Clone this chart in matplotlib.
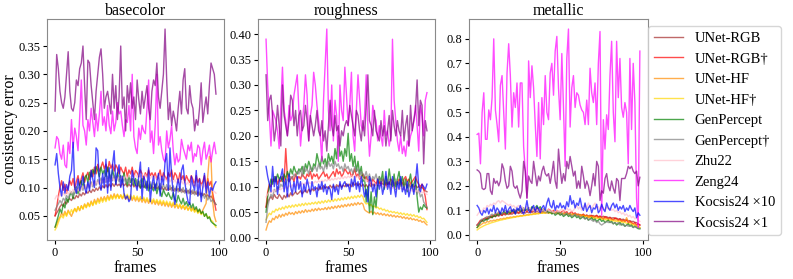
import numpy as np
import matplotlib
matplotlib.use("Agg")
import matplotlib.pyplot as plt
from matplotlib.ticker import MultipleLocator

plt.rcParams["font.family"] = ["Liberation Serif", "DejaVu Serif"]

# ================= LEGEND / STYLE =================
LABELS = ["UNet-RGB", "UNet-RGB\u2020", "UNet-HF", "UNet-HF\u2020", "GenPercept",
          "GenPercept\u2020", "Zhu22", "Zeng24", "Kocsis24 \u00d710", "Kocsis24 \u00d71"]
COLORS = ["brown", "red", "darkorange", "gold", "green",
          "grey", "pink", "magenta", "blue", "purple"]
TITLES = ["basecolor", "roughness", "metallic"]
YSTEPS = [0.05, 0.05, 0.1]

# ================= BASECOLOR =================
bc_unet_rgb = [
    0.050, 0.055, 0.060, 0.066, 0.070, 0.067, 0.075, 0.071, 0.079, 0.080,
    0.077, 0.083, 0.080, 0.086, 0.082, 0.089, 0.085, 0.091, 0.087, 0.093,
    0.090, 0.095, 0.091, 0.097, 0.093, 0.099, 0.095, 0.101, 0.097, 0.103,
    0.099, 0.105, 0.100, 0.106, 0.101, 0.107, 0.102, 0.108, 0.103, 0.106,
    0.102, 0.108, 0.103, 0.107, 0.101, 0.106, 0.102, 0.107, 0.101, 0.105,
    0.101, 0.105, 0.099, 0.104, 0.100, 0.105, 0.099, 0.103, 0.098, 0.102,
    0.099, 0.104, 0.098, 0.101, 0.097, 0.101, 0.096, 0.100, 0.095, 0.099,
    0.096, 0.100, 0.094, 0.098, 0.095, 0.098, 0.093, 0.097, 0.092, 0.095,
    0.091, 0.095, 0.090, 0.094, 0.089, 0.093, 0.088, 0.092, 0.087, 0.090,
    0.086, 0.089, 0.084, 0.087, 0.082, 0.085, 0.080, 0.075, 0.070]
bc_unet_rgb_d = [
    0.050, 0.065, 0.085, 0.100, 0.112, 0.095, 0.106, 0.090, 0.101, 0.112,
    0.104, 0.116, 0.099, 0.111, 0.121, 0.104, 0.116, 0.126, 0.109, 0.120,
    0.127, 0.114, 0.131, 0.119, 0.136, 0.124, 0.141, 0.129, 0.136, 0.145,
    0.133, 0.141, 0.128, 0.146, 0.134, 0.141, 0.129, 0.140, 0.134, 0.124,
    0.136, 0.129, 0.124, 0.136, 0.119, 0.131, 0.124, 0.136, 0.119, 0.130,
    0.126, 0.119, 0.131, 0.124, 0.114, 0.126, 0.119, 0.131, 0.121, 0.126,
    0.119, 0.126, 0.114, 0.121, 0.131, 0.114, 0.126, 0.119, 0.114, 0.126,
    0.119, 0.131, 0.114, 0.126, 0.121, 0.109, 0.126, 0.114, 0.121, 0.109,
    0.121, 0.114, 0.109, 0.121, 0.114, 0.104, 0.121, 0.109, 0.116, 0.104,
    0.111, 0.121, 0.099, 0.116, 0.104, 0.111, 0.090, 0.075, 0.060]
bc_unet_hf = [
    0.030, 0.035, 0.043, 0.048, 0.055, 0.050, 0.058, 0.051, 0.060, 0.054,
    0.049, 0.057, 0.063, 0.057, 0.066, 0.059, 0.068, 0.062, 0.071, 0.065,
    0.073, 0.067, 0.076, 0.069, 0.079, 0.072, 0.081, 0.075, 0.083, 0.077,
    0.084, 0.078, 0.086, 0.079, 0.087, 0.081, 0.089, 0.082, 0.088, 0.081,
    0.087, 0.080, 0.086, 0.079, 0.085, 0.078, 0.084, 0.077, 0.083, 0.076,
    0.082, 0.075, 0.081, 0.074, 0.080, 0.073, 0.079, 0.072, 0.078, 0.071,
    0.077, 0.070, 0.076, 0.069, 0.075, 0.068, 0.074, 0.067, 0.073, 0.066,
    0.072, 0.065, 0.071, 0.064, 0.070, 0.063, 0.069, 0.062, 0.068, 0.061,
    0.067, 0.060, 0.066, 0.059, 0.065, 0.058, 0.063, 0.056, 0.061, 0.054,
    0.060, 0.066, 0.072, 0.120, 0.155, 0.150, 0.075, 0.050, 0.040]
bc_unet_hf_d = [
    0.025, 0.030, 0.038, 0.046, 0.050, 0.046, 0.055, 0.049, 0.058, 0.053,
    0.061, 0.055, 0.063, 0.058, 0.066, 0.060, 0.067, 0.062, 0.070, 0.064,
    0.072, 0.066, 0.074, 0.068, 0.076, 0.070, 0.078, 0.072, 0.080, 0.074,
    0.081, 0.075, 0.083, 0.077, 0.085, 0.079, 0.086, 0.080, 0.088, 0.081,
    0.087, 0.081, 0.089, 0.082, 0.088, 0.081, 0.087, 0.080, 0.086, 0.079,
    0.085, 0.078, 0.084, 0.077, 0.083, 0.076, 0.082, 0.075, 0.081, 0.074,
    0.080, 0.073, 0.079, 0.072, 0.078, 0.071, 0.077, 0.070, 0.076, 0.069,
    0.075, 0.068, 0.074, 0.067, 0.072, 0.065, 0.071, 0.064, 0.069, 0.062,
    0.067, 0.060, 0.065, 0.058, 0.063, 0.056, 0.061, 0.054, 0.059, 0.052,
    0.056, 0.049, 0.053, 0.046, 0.049, 0.042, 0.040, 0.034, 0.030]
bc_genpercept = [
    0.030, 0.040, 0.050, 0.062, 0.055, 0.071, 0.064, 0.081, 0.074, 0.086,
    0.092, 0.080, 0.096, 0.101, 0.089, 0.106, 0.112, 0.099, 0.117, 0.122,
    0.109, 0.127, 0.119, 0.132, 0.124, 0.137, 0.130, 0.119, 0.136, 0.124,
    0.131, 0.119, 0.136, 0.125, 0.114, 0.131, 0.119, 0.109, 0.126, 0.114,
    0.121, 0.109, 0.126, 0.114, 0.104, 0.121, 0.109, 0.116, 0.104, 0.116,
    0.104, 0.111, 0.099, 0.116, 0.104, 0.099, 0.111, 0.094, 0.106, 0.099,
    0.094, 0.106, 0.089, 0.101, 0.094, 0.084, 0.096, 0.089, 0.084, 0.091,
    0.084, 0.079, 0.091, 0.079, 0.074, 0.086, 0.077, 0.071, 0.081, 0.069,
    0.075, 0.067, 0.073, 0.064, 0.071, 0.061, 0.066, 0.057, 0.062, 0.054,
    0.058, 0.049, 0.054, 0.045, 0.048, 0.040, 0.037, 0.035, 0.033]
bc_genpercept_d = [
    0.060, 0.066, 0.071, 0.077, 0.072, 0.081, 0.077, 0.086, 0.081, 0.089,
    0.092, 0.085, 0.096, 0.089, 0.099, 0.092, 0.102, 0.095, 0.105, 0.098,
    0.107, 0.099, 0.110, 0.101, 0.112, 0.104, 0.114, 0.106, 0.117, 0.108,
    0.118, 0.109, 0.120, 0.111, 0.122, 0.112, 0.121, 0.111, 0.120, 0.110,
    0.119, 0.109, 0.118, 0.108, 0.117, 0.107, 0.116, 0.106, 0.115, 0.105,
    0.114, 0.104, 0.113, 0.103, 0.112, 0.102, 0.111, 0.101, 0.110, 0.100,
    0.109, 0.099, 0.108, 0.098, 0.107, 0.097, 0.106, 0.096, 0.105, 0.095,
    0.104, 0.094, 0.103, 0.093, 0.102, 0.092, 0.101, 0.091, 0.100, 0.090,
    0.098, 0.089, 0.097, 0.088, 0.096, 0.087, 0.094, 0.085, 0.092, 0.083,
    0.090, 0.081, 0.087, 0.078, 0.084, 0.075, 0.079, 0.073, 0.070]
bc_zhu22 = [
    0.080, 0.086, 0.081, 0.089, 0.084, 0.091, 0.086, 0.093, 0.088, 0.095,
    0.090, 0.097, 0.092, 0.099, 0.094, 0.101, 0.096, 0.103, 0.098, 0.105,
    0.100, 0.107, 0.102, 0.109, 0.104, 0.111, 0.106, 0.113, 0.108, 0.114,
    0.109, 0.115, 0.110, 0.116, 0.111, 0.117, 0.112, 0.118, 0.113, 0.119,
    0.114, 0.120, 0.115, 0.121, 0.116, 0.122, 0.117, 0.123, 0.118, 0.123,
    0.118, 0.124, 0.119, 0.124, 0.118, 0.123, 0.117, 0.122, 0.116, 0.121,
    0.115, 0.120, 0.114, 0.119, 0.113, 0.118, 0.112, 0.117, 0.111, 0.116,
    0.110, 0.115, 0.109, 0.114, 0.108, 0.113, 0.107, 0.112, 0.106, 0.111,
    0.105, 0.110, 0.104, 0.109, 0.103, 0.108, 0.102, 0.107, 0.101, 0.105,
    0.099, 0.104, 0.098, 0.102, 0.096, 0.100, 0.094, 0.093, 0.090]
bc_zeng24 = [
    0.170, 0.190, 0.185, 0.160, 0.150, 0.175, 0.140, 0.135, 0.180, 0.160,
    0.220, 0.170, 0.205, 0.190, 0.165, 0.225, 0.290, 0.210, 0.200, 0.175,
    0.220, 0.200, 0.240, 0.215, 0.190, 0.230, 0.200, 0.230, 0.270, 0.210,
    0.225, 0.200, 0.245, 0.210, 0.195, 0.235, 0.200, 0.215, 0.250, 0.230,
    0.235, 0.210, 0.190, 0.220, 0.215, 0.245, 0.200, 0.300, 0.190, 0.170,
    0.160, 0.205, 0.185, 0.210, 0.200, 0.195, 0.240, 0.290, 0.180, 0.200,
    0.160, 0.210, 0.300, 0.175, 0.190, 0.165, 0.150, 0.145, 0.200, 0.170,
    0.185, 0.210, 0.165, 0.140, 0.160, 0.145, 0.150, 0.185, 0.170, 0.160,
    0.150, 0.175, 0.165, 0.180, 0.145, 0.160, 0.155, 0.175, 0.170, 0.140,
    0.165, 0.180, 0.150, 0.160, 0.175, 0.145, 0.165, 0.180, 0.160]
bc_kocsis_x10 = [
    0.140, 0.160, 0.125, 0.100, 0.085, 0.110, 0.090, 0.105, 0.095, 0.120,
    0.130, 0.180, 0.100, 0.090, 0.115, 0.095, 0.105, 0.120, 0.100, 0.090,
    0.110, 0.095, 0.130, 0.115, 0.100, 0.170, 0.165, 0.110, 0.095, 0.125,
    0.100, 0.150, 0.090, 0.135, 0.095, 0.140, 0.165, 0.105, 0.125, 0.140,
    0.100, 0.120, 0.090, 0.080, 0.085, 0.075, 0.080, 0.130, 0.115, 0.105,
    0.095, 0.120, 0.145, 0.080, 0.120, 0.110, 0.095, 0.135, 0.075, 0.105,
    0.120, 0.095, 0.110, 0.125, 0.085, 0.120, 0.105, 0.145, 0.160, 0.095,
    0.170, 0.120, 0.090, 0.070, 0.100, 0.115, 0.095, 0.130, 0.140, 0.110,
    0.090, 0.075, 0.070, 0.120, 0.105, 0.095, 0.130, 0.085, 0.115, 0.075,
    0.100, 0.125, 0.090, 0.110, 0.085, 0.100, 0.095, 0.105, 0.110]
bc_kocsis_x1 = [
    0.235, 0.335, 0.310, 0.270, 0.250, 0.240, 0.260, 0.300, 0.340, 0.270,
    0.240, 0.235, 0.250, 0.290, 0.280, 0.310, 0.320, 0.350, 0.280, 0.220,
    0.325, 0.320, 0.280, 0.250, 0.220, 0.270, 0.300, 0.330, 0.345, 0.300,
    0.240, 0.260, 0.270, 0.250, 0.230, 0.300, 0.240, 0.280, 0.220, 0.260,
    0.350, 0.240, 0.260, 0.200, 0.280, 0.250, 0.285, 0.240, 0.260, 0.220,
    0.290, 0.255, 0.230, 0.270, 0.240, 0.260, 0.280, 0.240, 0.220, 0.270,
    0.290, 0.280, 0.320, 0.260, 0.240, 0.270, 0.300, 0.380, 0.290, 0.220,
    0.250, 0.210, 0.235, 0.220, 0.200, 0.240, 0.270, 0.230, 0.290, 0.310,
    0.240, 0.230, 0.280, 0.250, 0.240, 0.200, 0.220, 0.210, 0.240, 0.285,
    0.215, 0.240, 0.260, 0.230, 0.280, 0.320, 0.310, 0.300, 0.265]

# ================= ROUGHNESS =================
rg_unet_rgb = [
    0.060, 0.070, 0.076, 0.081, 0.075, 0.085, 0.079, 0.077, 0.085, 0.080,
    0.075, 0.083, 0.078, 0.086, 0.080, 0.088, 0.082, 0.086, 0.090, 0.085,
    0.088, 0.092, 0.086, 0.090, 0.094, 0.088, 0.095, 0.090, 0.096, 0.092,
    0.095, 0.098, 0.093, 0.100, 0.095, 0.102, 0.097, 0.100, 0.096, 0.103,
    0.098, 0.102, 0.097, 0.104, 0.100, 0.105, 0.099, 0.103, 0.100, 0.106,
    0.101, 0.105, 0.100, 0.108, 0.103, 0.107, 0.102, 0.106, 0.101, 0.105,
    0.100, 0.104, 0.099, 0.105, 0.100, 0.106, 0.101, 0.107, 0.102, 0.108,
    0.103, 0.107, 0.102, 0.109, 0.104, 0.108, 0.103, 0.110, 0.105, 0.109,
    0.104, 0.108, 0.103, 0.107, 0.102, 0.106, 0.101, 0.105, 0.100, 0.104,
    0.099, 0.103, 0.098, 0.101, 0.097, 0.099, 0.095, 0.092, 0.090]
rg_unet_rgb_d = [
    0.060, 0.090, 0.105, 0.100, 0.115, 0.110, 0.120, 0.105, 0.115, 0.110,
    0.120, 0.110, 0.175, 0.120, 0.110, 0.115, 0.120, 0.110, 0.125, 0.115,
    0.120, 0.115, 0.125, 0.120, 0.115, 0.125, 0.120, 0.130, 0.115, 0.125,
    0.120, 0.125, 0.115, 0.120, 0.125, 0.130, 0.120, 0.125, 0.115, 0.120,
    0.125, 0.130, 0.120, 0.135, 0.125, 0.130, 0.120, 0.125, 0.135, 0.130,
    0.125, 0.130, 0.120, 0.125, 0.135, 0.120, 0.125, 0.115, 0.120, 0.125,
    0.115, 0.120, 0.110, 0.115, 0.105, 0.115, 0.110, 0.105, 0.115, 0.110,
    0.105, 0.115, 0.110, 0.100, 0.110, 0.105, 0.115, 0.110, 0.100, 0.110,
    0.105, 0.115, 0.110, 0.105, 0.115, 0.120, 0.110, 0.115, 0.105, 0.110,
    0.115, 0.120, 0.110, 0.105, 0.100, 0.105, 0.095, 0.080, 0.055]
rg_unet_hf = [
    0.015, 0.026, 0.033, 0.030, 0.038, 0.035, 0.042, 0.038, 0.045, 0.040,
    0.046, 0.042, 0.048, 0.044, 0.050, 0.046, 0.049, 0.045, 0.051, 0.047,
    0.052, 0.048, 0.053, 0.049, 0.055, 0.050, 0.054, 0.051, 0.056, 0.052,
    0.057, 0.053, 0.058, 0.054, 0.057, 0.055, 0.059, 0.055, 0.060, 0.056,
    0.061, 0.057, 0.062, 0.058, 0.063, 0.059, 0.064, 0.060, 0.065, 0.061,
    0.066, 0.062, 0.067, 0.063, 0.068, 0.064, 0.069, 0.065, 0.068, 0.066,
    0.055, 0.052, 0.050, 0.048, 0.052, 0.047, 0.050, 0.046, 0.049, 0.045,
    0.048, 0.044, 0.047, 0.043, 0.046, 0.042, 0.045, 0.041, 0.044, 0.040,
    0.043, 0.040, 0.042, 0.038, 0.041, 0.037, 0.040, 0.036, 0.039, 0.035,
    0.037, 0.034, 0.036, 0.032, 0.034, 0.030, 0.032, 0.028, 0.025]
rg_unet_hf_d = [
    0.035, 0.042, 0.048, 0.045, 0.052, 0.050, 0.056, 0.053, 0.058, 0.055,
    0.060, 0.056, 0.062, 0.058, 0.063, 0.059, 0.064, 0.060, 0.065, 0.061,
    0.066, 0.062, 0.067, 0.063, 0.068, 0.064, 0.068, 0.065, 0.069, 0.066,
    0.070, 0.066, 0.071, 0.067, 0.072, 0.068, 0.073, 0.069, 0.074, 0.070,
    0.075, 0.071, 0.076, 0.072, 0.077, 0.073, 0.078, 0.074, 0.079, 0.075,
    0.080, 0.076, 0.081, 0.077, 0.082, 0.078, 0.083, 0.079, 0.084, 0.080,
    0.070, 0.066, 0.068, 0.063, 0.065, 0.060, 0.062, 0.058, 0.060, 0.056,
    0.058, 0.054, 0.056, 0.052, 0.054, 0.050, 0.052, 0.049, 0.051, 0.048,
    0.050, 0.046, 0.049, 0.045, 0.048, 0.044, 0.047, 0.043, 0.046, 0.042,
    0.045, 0.041, 0.043, 0.039, 0.041, 0.037, 0.038, 0.034, 0.030]
rg_genpercept = [
    0.050, 0.080, 0.100, 0.115, 0.105, 0.120, 0.110, 0.125, 0.115, 0.120,
    0.110, 0.125, 0.115, 0.130, 0.120, 0.135, 0.125, 0.140, 0.130, 0.125,
    0.135, 0.130, 0.140, 0.125, 0.145, 0.135, 0.150, 0.140, 0.130, 0.145,
    0.140, 0.165, 0.150, 0.140, 0.160, 0.145, 0.155, 0.140, 0.165, 0.150,
    0.160, 0.145, 0.175, 0.155, 0.200, 0.160, 0.170, 0.150, 0.175, 0.160,
    0.205, 0.150, 0.165, 0.140, 0.160, 0.130, 0.150, 0.125, 0.140, 0.110,
    0.120, 0.070, 0.100, 0.050, 0.090, 0.045, 0.080, 0.060, 0.100, 0.120,
    0.110, 0.130, 0.095, 0.120, 0.105, 0.135, 0.110, 0.100, 0.125, 0.095,
    0.115, 0.130, 0.105, 0.120, 0.100, 0.115, 0.090, 0.110, 0.125, 0.100,
    0.105, 0.115, 0.080, 0.050, 0.060, 0.055, 0.065, 0.060, 0.058]
rg_genpercept_d = [
    0.030, 0.060, 0.075, 0.085, 0.080, 0.095, 0.090, 0.100, 0.095, 0.105,
    0.100, 0.110, 0.105, 0.115, 0.110, 0.120, 0.115, 0.125, 0.120, 0.130,
    0.125, 0.135, 0.120, 0.140, 0.130, 0.135, 0.125, 0.140, 0.130, 0.135,
    0.140, 0.130, 0.145, 0.135, 0.140, 0.130, 0.145, 0.135, 0.150, 0.140,
    0.145, 0.135, 0.150, 0.140, 0.145, 0.135, 0.140, 0.130, 0.145, 0.135,
    0.140, 0.130, 0.135, 0.125, 0.140, 0.130, 0.135, 0.120, 0.130, 0.125,
    0.120, 0.130, 0.115, 0.125, 0.110, 0.120, 0.115, 0.125, 0.110, 0.120,
    0.110, 0.115, 0.105, 0.120, 0.110, 0.115, 0.105, 0.110, 0.100, 0.115,
    0.105, 0.110, 0.100, 0.105, 0.095, 0.110, 0.100, 0.105, 0.095, 0.100,
    0.090, 0.100, 0.085, 0.095, 0.080, 0.085, 0.070, 0.065, 0.060]
rg_zhu22 = [
    0.080, 0.085, 0.090, 0.088, 0.093, 0.090, 0.095, 0.092, 0.097, 0.094,
    0.098, 0.095, 0.100, 0.097, 0.102, 0.099, 0.104, 0.101, 0.105, 0.102,
    0.106, 0.103, 0.107, 0.104, 0.108, 0.105, 0.109, 0.106, 0.110, 0.107,
    0.111, 0.108, 0.112, 0.109, 0.113, 0.110, 0.114, 0.111, 0.115, 0.112,
    0.116, 0.113, 0.117, 0.114, 0.118, 0.115, 0.119, 0.116, 0.120, 0.117,
    0.121, 0.118, 0.122, 0.119, 0.122, 0.118, 0.121, 0.117, 0.120, 0.116,
    0.114, 0.110, 0.112, 0.108, 0.110, 0.106, 0.108, 0.104, 0.106, 0.102,
    0.104, 0.100, 0.103, 0.099, 0.102, 0.098, 0.101, 0.097, 0.100, 0.096,
    0.099, 0.095, 0.098, 0.094, 0.097, 0.093, 0.096, 0.092, 0.095, 0.091,
    0.094, 0.090, 0.093, 0.089, 0.092, 0.088, 0.090, 0.087, 0.085]
rg_zeng24 = [
    0.390, 0.300, 0.240, 0.180, 0.250, 0.240, 0.230, 0.210, 0.175, 0.260,
    0.335, 0.250, 0.230, 0.200, 0.260, 0.230, 0.240, 0.280, 0.300, 0.320,
    0.250, 0.180, 0.220, 0.260, 0.320, 0.280, 0.190, 0.240, 0.260, 0.325,
    0.300, 0.260, 0.230, 0.200, 0.150, 0.270, 0.340, 0.410, 0.250, 0.210,
    0.300, 0.190, 0.270, 0.240, 0.150, 0.300, 0.250, 0.230, 0.335, 0.280,
    0.220, 0.260, 0.325, 0.200, 0.170, 0.250, 0.320, 0.270, 0.220, 0.210,
    0.240, 0.320, 0.220, 0.160, 0.200, 0.260, 0.240, 0.230, 0.190, 0.220,
    0.200, 0.180, 0.250, 0.200, 0.210, 0.180, 0.200, 0.390, 0.270, 0.230,
    0.190, 0.170, 0.200, 0.165, 0.180, 0.160, 0.190, 0.180, 0.200, 0.210,
    0.230, 0.260, 0.220, 0.170, 0.260, 0.240, 0.200, 0.270, 0.285]
rg_kocsis_x10 = [
    0.140, 0.120, 0.105, 0.090, 0.140, 0.100, 0.120, 0.085, 0.110, 0.120,
    0.135, 0.090, 0.115, 0.080, 0.125, 0.100, 0.085, 0.110, 0.090, 0.120,
    0.095, 0.110, 0.080, 0.105, 0.090, 0.115, 0.100, 0.085, 0.110, 0.095,
    0.100, 0.080, 0.105, 0.095, 0.110, 0.090, 0.105, 0.085, 0.100, 0.095,
    0.075, 0.105, 0.090, 0.100, 0.085, 0.110, 0.095, 0.105, 0.110, 0.100,
    0.105, 0.090, 0.115, 0.100, 0.120, 0.095, 0.110, 0.090, 0.120, 0.100,
    0.080, 0.095, 0.070, 0.120, 0.110, 0.090, 0.105, 0.080, 0.115, 0.095,
    0.110, 0.085, 0.100, 0.130, 0.095, 0.110, 0.085, 0.120, 0.100, 0.080,
    0.110, 0.095, 0.120, 0.090, 0.100, 0.085, 0.110, 0.080, 0.095, 0.105,
    0.085, 0.110, 0.145, 0.100, 0.090, 0.105, 0.100, 0.095, 0.105]
rg_kocsis_x1 = [
    0.320, 0.230, 0.270, 0.280, 0.240, 0.190, 0.215, 0.260, 0.220, 0.180,
    0.300, 0.240, 0.220, 0.200, 0.230, 0.280, 0.270, 0.220, 0.250, 0.200,
    0.240, 0.250, 0.210, 0.220, 0.260, 0.230, 0.190, 0.240, 0.220, 0.200,
    0.220, 0.250, 0.210, 0.200, 0.230, 0.190, 0.210, 0.170, 0.220, 0.270,
    0.220, 0.200, 0.240, 0.210, 0.220, 0.180, 0.210, 0.200, 0.220, 0.230,
    0.220, 0.260, 0.240, 0.220, 0.200, 0.250, 0.240, 0.210, 0.190, 0.230,
    0.200, 0.260, 0.320, 0.230, 0.220, 0.200, 0.250, 0.210, 0.200, 0.190,
    0.230, 0.200, 0.220, 0.180, 0.210, 0.240, 0.190, 0.250, 0.220, 0.200,
    0.230, 0.210, 0.200, 0.250, 0.190, 0.220, 0.240, 0.180, 0.260, 0.210,
    0.230, 0.250, 0.310, 0.220, 0.270, 0.260, 0.145, 0.230, 0.210]

# ================= METALLIC =================
mt_unet_rgb = [
    0.040, 0.045, 0.055, 0.060, 0.065, 0.060, 0.070, 0.065, 0.075, 0.070,
    0.078, 0.074, 0.080, 0.076, 0.083, 0.079, 0.085, 0.081, 0.087, 0.083,
    0.088, 0.084, 0.090, 0.086, 0.091, 0.087, 0.092, 0.088, 0.093, 0.089,
    0.094, 0.090, 0.095, 0.091, 0.095, 0.091, 0.096, 0.092, 0.095, 0.091,
    0.094, 0.090, 0.093, 0.089, 0.092, 0.088, 0.091, 0.087, 0.090, 0.086,
    0.089, 0.085, 0.088, 0.084, 0.087, 0.083, 0.086, 0.082, 0.085, 0.081,
    0.084, 0.080, 0.083, 0.079, 0.082, 0.078, 0.081, 0.077, 0.080, 0.076,
    0.079, 0.075, 0.078, 0.074, 0.077, 0.073, 0.076, 0.072, 0.074, 0.070,
    0.072, 0.068, 0.070, 0.066, 0.068, 0.064, 0.066, 0.062, 0.064, 0.060,
    0.061, 0.057, 0.058, 0.054, 0.055, 0.051, 0.050, 0.045, 0.040]
mt_unet_rgb_d = [
    0.040, 0.050, 0.060, 0.055, 0.065, 0.070, 0.065, 0.075, 0.070, 0.080,
    0.075, 0.085, 0.080, 0.090, 0.085, 0.080, 0.090, 0.085, 0.095, 0.090,
    0.085, 0.095, 0.090, 0.100, 0.095, 0.090, 0.100, 0.095, 0.105, 0.100,
    0.095, 0.105, 0.100, 0.095, 0.105, 0.100, 0.110, 0.100, 0.105, 0.095,
    0.105, 0.100, 0.095, 0.105, 0.100, 0.095, 0.100, 0.090, 0.100, 0.095,
    0.090, 0.095, 0.100, 0.090, 0.095, 0.085, 0.090, 0.095, 0.085, 0.090,
    0.080, 0.085, 0.075, 0.080, 0.085, 0.075, 0.080, 0.070, 0.075, 0.080,
    0.070, 0.075, 0.080, 0.070, 0.075, 0.070, 0.065, 0.075, 0.070, 0.065,
    0.070, 0.065, 0.060, 0.070, 0.065, 0.060, 0.065, 0.055, 0.060, 0.055,
    0.060, 0.050, 0.055, 0.050, 0.045, 0.050, 0.040, 0.045, 0.040]
mt_unet_hf = [
    0.030, 0.035, 0.040, 0.045, 0.050, 0.048, 0.055, 0.052, 0.058, 0.056,
    0.060, 0.058, 0.063, 0.061, 0.066, 0.064, 0.068, 0.066, 0.071, 0.069,
    0.073, 0.071, 0.075, 0.073, 0.077, 0.075, 0.079, 0.077, 0.081, 0.079,
    0.083, 0.081, 0.085, 0.083, 0.087, 0.085, 0.088, 0.086, 0.090, 0.088,
    0.091, 0.089, 0.092, 0.090, 0.093, 0.090, 0.092, 0.089, 0.091, 0.088,
    0.090, 0.087, 0.089, 0.086, 0.088, 0.085, 0.087, 0.084, 0.086, 0.083,
    0.085, 0.082, 0.083, 0.080, 0.081, 0.078, 0.079, 0.076, 0.077, 0.074,
    0.075, 0.072, 0.073, 0.070, 0.071, 0.068, 0.069, 0.066, 0.067, 0.064,
    0.065, 0.062, 0.063, 0.060, 0.061, 0.058, 0.059, 0.056, 0.057, 0.054,
    0.070, 0.055, 0.050, 0.048, 0.045, 0.042, 0.038, 0.034, 0.030]
mt_unet_hf_d = [
    0.020, 0.025, 0.030, 0.033, 0.037, 0.040, 0.043, 0.045, 0.048, 0.050,
    0.052, 0.054, 0.056, 0.058, 0.060, 0.061, 0.063, 0.064, 0.066, 0.067,
    0.068, 0.070, 0.071, 0.072, 0.074, 0.075, 0.076, 0.077, 0.078, 0.079,
    0.080, 0.081, 0.082, 0.083, 0.084, 0.085, 0.086, 0.087, 0.088, 0.088,
    0.089, 0.089, 0.090, 0.090, 0.090, 0.089, 0.089, 0.088, 0.088, 0.087,
    0.087, 0.086, 0.085, 0.085, 0.084, 0.083, 0.082, 0.082, 0.081, 0.080,
    0.079, 0.078, 0.077, 0.076, 0.075, 0.074, 0.073, 0.072, 0.071, 0.070,
    0.069, 0.068, 0.067, 0.066, 0.065, 0.064, 0.063, 0.062, 0.061, 0.060,
    0.059, 0.058, 0.057, 0.056, 0.055, 0.054, 0.053, 0.052, 0.051, 0.050,
    0.048, 0.046, 0.044, 0.042, 0.040, 0.038, 0.035, 0.032, 0.030]
mt_genpercept = [
    0.030, 0.040, 0.050, 0.060, 0.055, 0.065, 0.060, 0.070, 0.075, 0.070,
    0.080, 0.075, 0.085, 0.080, 0.090, 0.085, 0.095, 0.090, 0.085, 0.095,
    0.090, 0.100, 0.095, 0.090, 0.100, 0.105, 0.095, 0.100, 0.110, 0.100,
    0.105, 0.110, 0.100, 0.115, 0.105, 0.110, 0.120, 0.105, 0.115, 0.100,
    0.105, 0.095, 0.100, 0.090, 0.095, 0.085, 0.090, 0.080, 0.085, 0.090,
    0.080, 0.085, 0.075, 0.080, 0.085, 0.075, 0.080, 0.070, 0.075, 0.080,
    0.070, 0.075, 0.065, 0.070, 0.075, 0.065, 0.070, 0.060, 0.065, 0.070,
    0.060, 0.065, 0.055, 0.060, 0.065, 0.055, 0.060, 0.050, 0.055, 0.060,
    0.050, 0.055, 0.045, 0.050, 0.040, 0.045, 0.050, 0.040, 0.045, 0.035,
    0.040, 0.045, 0.035, 0.040, 0.030, 0.035, 0.030, 0.025, 0.025]
mt_genpercept_d = [
    0.040, 0.045, 0.055, 0.065, 0.060, 0.070, 0.075, 0.070, 0.080, 0.085,
    0.080, 0.090, 0.085, 0.095, 0.090, 0.085, 0.095, 0.100, 0.090, 0.095,
    0.100, 0.095, 0.105, 0.100, 0.095, 0.105, 0.100, 0.110, 0.100, 0.105,
    0.100, 0.110, 0.105, 0.100, 0.110, 0.105, 0.100, 0.105, 0.095, 0.100,
    0.095, 0.100, 0.090, 0.095, 0.100, 0.090, 0.095, 0.085, 0.090, 0.095,
    0.085, 0.090, 0.080, 0.085, 0.090, 0.080, 0.085, 0.075, 0.080, 0.085,
    0.075, 0.080, 0.070, 0.075, 0.070, 0.065, 0.070, 0.060, 0.065, 0.060,
    0.055, 0.060, 0.050, 0.055, 0.045, 0.040, 0.045, 0.050, 0.055, 0.050,
    0.055, 0.050, 0.045, 0.050, 0.045, 0.050, 0.040, 0.045, 0.040, 0.035,
    0.040, 0.035, 0.040, 0.035, 0.030, 0.035, 0.030, 0.030, 0.025]
mt_zhu22 = [
    0.080, 0.090, 0.100, 0.095, 0.110, 0.105, 0.120, 0.115, 0.125, 0.120,
    0.130, 0.125, 0.135, 0.140, 0.130, 0.140, 0.135, 0.130, 0.125, 0.120,
    0.125, 0.115, 0.120, 0.110, 0.115, 0.120, 0.110, 0.115, 0.105, 0.110,
    0.115, 0.105, 0.110, 0.100, 0.105, 0.110, 0.100, 0.105, 0.095, 0.100,
    0.105, 0.095, 0.100, 0.105, 0.095, 0.100, 0.090, 0.095, 0.100, 0.095,
    0.100, 0.105, 0.095, 0.100, 0.110, 0.100, 0.105, 0.095, 0.100, 0.110,
    0.120, 0.105, 0.115, 0.100, 0.110, 0.125, 0.110, 0.130, 0.115, 0.110,
    0.120, 0.130, 0.110, 0.115, 0.105, 0.120, 0.110, 0.100, 0.115, 0.105,
    0.110, 0.100, 0.105, 0.095, 0.100, 0.090, 0.095, 0.085, 0.090, 0.080,
    0.085, 0.075, 0.080, 0.070, 0.075, 0.065, 0.070, 0.060, 0.055]
mt_zeng24 = [
    0.410, 0.415, 0.290, 0.500, 0.580, 0.390, 0.390, 0.510, 0.470, 0.560,
    0.800, 0.510, 0.450, 0.380, 0.610, 0.650, 0.500, 0.350, 0.660, 0.780,
    0.650, 0.440, 0.580, 0.520, 0.620, 0.440, 0.620, 0.620, 0.360, 0.260,
    0.150, 0.710, 0.560, 0.690, 0.600, 0.450, 0.320, 0.540, 0.310, 0.560,
    0.450, 0.650, 0.500, 0.470, 0.660, 0.700, 0.570, 0.750, 0.810, 0.600,
    0.470, 0.740, 0.520, 0.280, 0.720, 0.840, 0.440, 0.600, 0.650, 0.520,
    0.580, 0.570, 0.530, 0.510, 0.500, 0.450, 0.550, 0.450, 0.680, 0.580,
    0.540, 0.620, 0.450, 0.700, 0.830, 0.080, 0.470, 0.350, 0.490, 0.430,
    0.650, 0.790, 0.500, 0.380, 0.790, 0.560, 0.720, 0.520, 0.480, 0.540,
    0.500, 0.290, 0.720, 0.430, 0.700, 0.540, 0.150, 0.030, 0.750]
mt_kocsis_x10 = [
    0.120, 0.110, 0.090, 0.080, 0.100, 0.090, 0.110, 0.085, 0.105, 0.095,
    0.120, 0.090, 0.110, 0.100, 0.085, 0.110, 0.095, 0.120, 0.090, 0.105,
    0.115, 0.095, 0.105, 0.085, 0.110, 0.100, 0.120, 0.095, 0.085, 0.105,
    0.140, 0.100, 0.090, 0.110, 0.120, 0.095, 0.115, 0.105, 0.090, 0.110,
    0.120, 0.100, 0.130, 0.150, 0.120, 0.110, 0.140, 0.100, 0.120, 0.110,
    0.130, 0.110, 0.120, 0.105, 0.135, 0.115, 0.160, 0.125, 0.140, 0.110,
    0.130, 0.120, 0.150, 0.115, 0.100, 0.130, 0.095, 0.110, 0.120, 0.090,
    0.110, 0.105, 0.125, 0.090, 0.100, 0.125, 0.105, 0.095, 0.130, 0.110,
    0.100, 0.120, 0.130, 0.110, 0.125, 0.100, 0.115, 0.105, 0.120, 0.095,
    0.110, 0.100, 0.120, 0.105, 0.095, 0.110, 0.070, 0.090, 0.080]
mt_kocsis_x1 = [
    0.265, 0.260, 0.250, 0.190, 0.185, 0.190, 0.250, 0.250, 0.180, 0.165,
    0.230, 0.210, 0.220, 0.200, 0.220, 0.290, 0.270, 0.220, 0.190, 0.200,
    0.280, 0.260, 0.200, 0.190, 0.200, 0.170, 0.150, 0.180, 0.300, 0.260,
    0.150, 0.240, 0.220, 0.210, 0.300, 0.250, 0.200, 0.240, 0.220, 0.260,
    0.280, 0.250, 0.240, 0.250, 0.210, 0.250, 0.300, 0.220, 0.190, 0.350,
    0.270, 0.210, 0.250, 0.220, 0.300, 0.270, 0.320, 0.280, 0.240, 0.260,
    0.190, 0.220, 0.190, 0.280, 0.240, 0.190, 0.220, 0.200, 0.160, 0.200,
    0.250, 0.200, 0.300, 0.280, 0.140, 0.180, 0.170, 0.230, 0.250, 0.200,
    0.180, 0.220, 0.190, 0.170, 0.230, 0.220, 0.140, 0.230, 0.230, 0.230,
    0.250, 0.280, 0.270, 0.280, 0.260, 0.250, 0.260, 0.200, 0.235]

PANELS = [
    [bc_unet_rgb, bc_unet_rgb_d, bc_unet_hf, bc_unet_hf_d, bc_genpercept,
     bc_genpercept_d, bc_zhu22, bc_zeng24, bc_kocsis_x10, bc_kocsis_x1],
    [rg_unet_rgb, rg_unet_rgb_d, rg_unet_hf, rg_unet_hf_d, rg_genpercept,
     rg_genpercept_d, rg_zhu22, rg_zeng24, rg_kocsis_x10, rg_kocsis_x1],
    [mt_unet_rgb, mt_unet_rgb_d, mt_unet_hf, mt_unet_hf_d, mt_genpercept,
     mt_genpercept_d, mt_zhu22, mt_zeng24, mt_kocsis_x10, mt_kocsis_x1],
]

# axes rectangles in figure fractions (left, bottom, width, height)
W, H = 793, 279
RECTS = [
    (47 / W, 1 - 240 / H, 177 / W, 221 / H),
    (258 / W, 1 - 240 / H, 177 / W, 221 / H),
    (469 / W, 1 - 240 / H, 179 / W, 221 / H),
]

fig = plt.figure(figsize=(W / 100, H / 100), dpi=100)
axes = []
for rect, title, step, series in zip(RECTS, TITLES, YSTEPS, PANELS):
    ax = fig.add_axes(rect)
    for label, color, vals in zip(LABELS, COLORS, series):
        ax.plot(np.arange(len(vals)), vals, color=color, alpha=0.7,
                linewidth=1.0, label=label)
    ax.set_title(title, fontsize=11.5, pad=3)
    ax.set_xlabel("frames", fontsize=11.5, labelpad=1)
    ax.set_xticks([0, 50, 100])
    ax.yaxis.set_major_locator(MultipleLocator(step))
    ax.tick_params(labelsize=9, length=3, pad=2)
    for sp in ax.spines.values():
        sp.set_color("#8a8a8a")
    axes.append(ax)

axes[0].set_ylabel("consistency error", fontsize=11.5, labelpad=0)

handles, labels = axes[0].get_legend_handles_labels()
fig.legend(handles, labels, loc="upper left",
           bbox_to_anchor=(648 / W, 1 - 26 / H), fontsize=10.5,
           labelspacing=0.5, frameon=True, borderaxespad=0.0,
           handlelength=2.0)

fig.savefig("out.png", dpi=100)
plt.close(fig)
